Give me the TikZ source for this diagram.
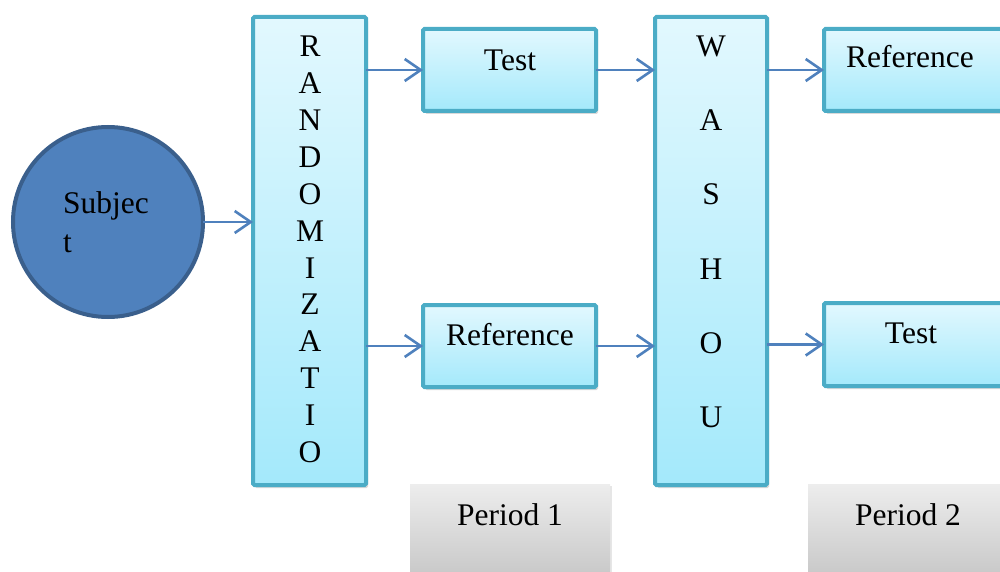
\documentclass[tikz,border=0pt]{standalone}
\usepackage{fontspec}
\setmainfont{Liberation Serif}
\usetikzlibrary{arrows.meta,shadows}
\definecolor{boxline}{HTML}{4BACC6}
\definecolor{boxtop}{HTML}{E2F8FE}
\definecolor{boxbot}{HTML}{A4E9FB}
\definecolor{arrowc}{HTML}{4F81BD}
\definecolor{subjfill}{HTML}{4F81BD}
\definecolor{subjline}{HTML}{3A5F8C}
\definecolor{pertop}{HTML}{EDEDED}
\definecolor{perbot}{HTML}{BDBDBD}
\begin{document}
\begin{tikzpicture}[x=1pt,y=-1pt,
  every node/.style={inner sep=0pt,outer sep=0pt},
  bluebox/.style={draw=boxline,line width=4pt,rounded corners=1.5pt,
    top color=boxtop,bottom color=boxbot,anchor=north west,
    drop shadow={opacity=0.3,shadow xshift=2pt,shadow yshift=-3pt}},
  perbox/.style={top color=pertop,bottom color=perbot,anchor=north west,
    drop shadow={opacity=0.2,shadow xshift=1.5pt,shadow yshift=-2pt}},
  lbl/.style={font=\fontsize{31.5}{36}\selectfont,anchor=base},
  vlbl/.style={align=center,anchor=base},
  arr/.style={draw=arrowc,line width=2.6pt,-{Straight Barb[length=16pt,width=22pt,line width=2.6pt]}}]
\useasboundingbox (0,0) rectangle (1000,572);
\clip (0,0) rectangle (1000,572);
% subject
\node[circle,draw=subjline,fill=subjfill,line width=4pt,minimum size=190pt] (subj) at (108,222) {};
\node[font=\fontsize{31.5}{39}\selectfont,align=left,anchor=base west] (subjT) at (63,252) {Subjec\\t};
% randomization
\node[bluebox,minimum width=113pt,minimum height=468pt] (rand) at (253,17) {};
\node[vlbl,font=\fontsize{31.5}{36.9}\selectfont] (randT) at (310,462.5) {R\\A\\N\\D\\O\\M\\I\\Z\\A\\T\\I\\O};
% period 1 boxes
\node[bluebox,minimum width=173pt,minimum height=82pt] (test1) at (423,29) {};
\node[lbl] (test1T) at (510,70.5) {Test};
\node[bluebox,minimum width=173pt,minimum height=82pt] (ref1) at (423,305) {};
\node[lbl] (ref1T) at (510,345.5) {Reference};
% washout
\node[bluebox,minimum width=112pt,minimum height=468pt] (wash) at (655,17) {};
\node[vlbl,font=\fontsize{31.5}{74.2}\selectfont] (washT) at (711,427.5) {W\\A\\S\\H\\O\\U};
% period 2 boxes
\node[bluebox,minimum width=190pt,minimum height=82pt] (ref2) at (824,29) {};
\node[lbl] (ref2T) at (910,67.5) {Reference};
\node[bluebox,minimum width=190pt,minimum height=83pt] (test2) at (824,303) {};
\node[lbl] (test2T) at (911,343.5) {Test};
% period labels
\node[perbox,minimum width=200pt,minimum height=120pt] (p1) at (410,484) {};
\node[lbl] (p1T) at (510,525) {Period 1};
\node[perbox,minimum width=210pt,minimum height=120pt] (p2) at (808,484) {};
\node[lbl] (p2T) at (908,525) {Period 2};
% arrows
\draw[arr] (subj.east) -- (rand.west |- subj.east);
\draw[arr] (rand.east |- test1.west) -- (test1.west);
\draw[arr] (rand.east |- ref1.west) -- (ref1.west);
\draw[arr] (test1.east) -- (wash.west |- test1.east);
\draw[arr] (ref1.east) -- (wash.west |- ref1.east);
\draw[arr] (wash.east |- ref2.west) -- (ref2.west);
\draw[arr] (wash.east |- test2.west) -- (test2.west);
\end{tikzpicture}
\end{document}
